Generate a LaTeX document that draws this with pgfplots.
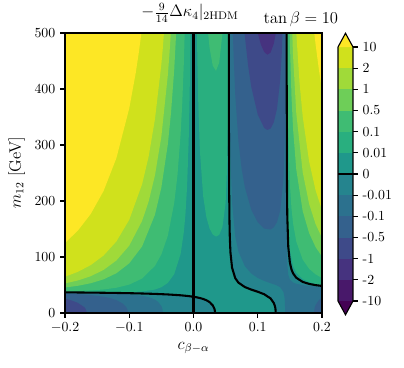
\documentclass[border=0pt]{standalone}
\usepackage{pgfplots}
\pgfplotsset{compat=1.18}
\definecolor{cU}{HTML}{440154}
\definecolor{c1}{HTML}{48186A}
\definecolor{c2}{HTML}{46337F}
\definecolor{c3}{HTML}{3E4A89}
\definecolor{c4}{HTML}{34618D}
\definecolor{c5}{HTML}{2C718E}
\definecolor{c6}{HTML}{25848E}
\definecolor{c7}{HTML}{1F988B}
\definecolor{c8}{HTML}{29AF7F}
\definecolor{c9}{HTML}{3FBC73}
\definecolor{c10}{HTML}{6ECE58}
\definecolor{c11}{HTML}{A0DA39}
\definecolor{c12}{HTML}{D0E11C}
\definecolor{cO}{HTML}{FDE725}
\begin{document}
\begin{tikzpicture}
\useasboundingbox (0,0) rectangle (4.04in,3.68in);
\begin{axis}[
  at={(0.65in,0.55in)}, anchor=south west,
  scale only axis, width=2.57in, height=2.80in,
  xmin=-0.2, xmax=0.2, ymin=0, ymax=500,
  axis on top,
  xtick={-0.2,-0.1,0,0.1,0.2},
  xticklabels={$-0.2$,$-0.1$,$0.0$,$0.1$,$0.2$},
  ytick={0,100,200,300,400,500},
  tick pos=left, tick align=outside,
  major tick length=3.5pt,
  every tick/.style={black, line width=0.8pt},
  axis line style={line width=0.8pt},
  xlabel={$c_{\beta-\alpha}$},
  ylabel={$m_{12}$ [GeV]},
  label style={font=\fontsize{12}{14}\selectfont},
]
% base: 0 < f < 0.01
\addplot[draw=none, fill=c7] coordinates {(-0.21,-10) (0.21,-10) (0.21,510) (-0.21,510)} --cycle;
% f < 0
\addplot[draw=none, fill=c6] coordinates {(-0.21,-10) (-0.21,36.86) (-0.2,36.86) (-0.18,36.66) (-0.16,36.42) (-0.14,36.14) (-0.12,35.80) (-0.1,35.38) (-0.08,34.84) (-0.06,34.13) (-0.04,33.13) (-0.02,31.63) (-0.01,30.52) (0,29.0) (0.005,27.99) (0.01,26.73) (0.015,25.09) (0.02,22.84) (0.025,19.52) (0.03,13.67) (0.0325,7.7) (0.033,5.5) (0.0334,2.5) (0.0335,0) (0.0335,-10)} --cycle;
\addplot[draw=none, fill=c6] coordinates {(0.05504,510) (0.05504,500) (0.0552,317.6) (0.0555,220.5) (0.056,162.8) (0.0565,135.9) (0.0575,108.4) (0.06,80.9) (0.065,62.07) (0.07,54.14) (0.08,46.3) (0.09,41.76) (0.1,37.96) (0.11,33.52) (0.12,25.95) (0.125,17.76) (0.1265,13.2) (0.1275,8.4) (0.128,0) (0.128,-10) (0.21,-10) (0.21,48.3) (0.2,48.3) (0.19,49.77) (0.18,51.93) (0.17,55.5) (0.16,62.87) (0.155,70.8) (0.1525,77.8) (0.15,90.05) (0.1475,118.3) (0.146,172) (0.1455,223.9) (0.145,442) (0.14496,500) (0.14496,510)} --cycle;
% f < -0.01
\addplot[draw=none, fill=c5] coordinates {(-0.21,-10) (-0.21,36.67) (-0.2,36.67) (-0.16,36.0) (-0.12,34.74) (-0.1,33.46) (-0.08,30.91) (-0.07,28.45) (-0.06,23.93) (-0.055,19.87) (-0.05,12.34) (-0.049,9.65) (-0.048,5.5) (-0.0476,0) (-0.0476,-10)} --cycle;
\addplot[draw=none, fill=c5] coordinates {(0.0558,510) (0.0558,500) (0.056,440.8) (0.0565,362.7) (0.0575,281.5) (0.06,197.4) (0.065,136.5) (0.07,109.6) (0.08,83.5) (0.09,70.5) (0.1,62.6) (0.11,57.3) (0.12,53.2) (0.125,51.3) (0.13,49.1) (0.135,45.9) (0.14,37.6) (0.1415,29.1) (0.142,23.2) (0.1425,9.7) (0.1426,0) (0.1426,-10) (0.21,-10) (0.21,46.65) (0.2,46.65) (0.19,47.4) (0.18,48.4) (0.17,49.8) (0.16,52.2) (0.155,54.4) (0.15,59.7) (0.1475,68.2) (0.146,86.2) (0.1452,132.7) (0.145,192.3) (0.1449,500) (0.1449,510)} --cycle;
% f < -0.1
\addplot[draw=none, fill=c4] coordinates {(-0.21,-10) (-0.21,34.87) (-0.2,34.87) (-0.18,33.78) (-0.16,32.05) (-0.14,29.07) (-0.13,26.65) (-0.12,23.01) (-0.11,16.75) (-0.105,10.98) (-0.103,6.9) (-0.1015,0) (-0.1015,-10)} --cycle;
\addplot[draw=none, fill=c4] coordinates {(0.0613,510) (0.0613,500) (0.0625,459.2) (0.065,389.4) (0.07,306.2) (0.075,257.1) (0.08,224.5) (0.09,184.3) (0.1,162.1) (0.11,150.8) (0.12,149.1) (0.125,153.1) (0.13,162.5) (0.135,183.2) (0.14,239.7) (0.1425,330.1) (0.1435,429.2) (0.1438,500) (0.1438,510)} --cycle;
\addplot[draw=none, fill=c4] coordinates {(0.1875,-10) (0.1875,0) (0.1885,9.1) (0.19,14.1) (0.195,22.8) (0.2,27.7) (0.21,27.7) (0.21,-10)} --cycle;
% f < -0.5
\addplot[draw=none, fill=c3] coordinates {(-0.21,-10) (-0.21,25.4) (-0.2,25.4) (-0.19,22.45) (-0.18,18.14) (-0.17,10.46) (-0.168,7.7) (-0.1658,0) (-0.1658,-10)} --cycle;
\addplot[draw=none, fill=c3] coordinates {(0.0795,510) (0.0795,500) (0.08,493.3) (0.085,441.5) (0.09,403.5) (0.1,354.4) (0.11,330.5) (0.115,326.8) (0.12,329.4) (0.125,340.4) (0.13,364.9) (0.135,416.5) (0.1375,465.6) (0.1385,500) (0.1385,510)} --cycle;
% f < -1
\addplot[draw=none, fill=c2] coordinates {(0.1,510) (0.1,499.8) (0.105,479.1) (0.11,466.2) (0.115,461.2) (0.12,465.1) (0.125,481.1) (0.128,499) (0.128,510)} --cycle;
% f > 0.01
\addplot[draw=none, fill=c8] coordinates {(-0.21,37.06) (-0.2,37.06) (-0.18,36.94) (-0.16,36.83) (-0.14,36.78) (-0.12,36.84) (-0.1,37.2) (-0.08,38.4) (-0.06,41.9) (-0.05,46.0) (-0.04,53.7) (-0.03,69.4) (-0.02,105.6) (-0.015,144.7) (-0.0125,176.7) (-0.01,225.5) (-0.0075,307.8) (-0.006,390.6) (-0.005,473.8) (-0.0048,500) (-0.0048,510) (-0.21,510)} --cycle;
\addplot[draw=none, fill=c8] coordinates {(0.0054,510) (0.0054,500) (0.006,453.9) (0.0075,371.1) (0.01,289.1) (0.015,208.9) (0.02,171.2) (0.025,150.9) (0.03,140.2) (0.035,136.5) (0.04,139.5) (0.045,153.3) (0.05,196.6) (0.0525,266.8) (0.0535,341.4) (0.054,419.5) (0.0542,500) (0.0542,510)} --cycle;
\addplot[draw=none, fill=c8] coordinates {(0.1451,510) (0.1451,500) (0.1455,298.6) (0.146,227.4) (0.1475,152.7) (0.15,112.5) (0.155,84.1) (0.16,72.0) (0.17,60.7) (0.18,55.2) (0.19,52.0) (0.2,49.9) (0.21,49.9) (0.21,510)} --cycle;
% f > 0.1
\addplot[draw=none, fill=c9] coordinates {(-0.21,38.75) (-0.2,38.75) (-0.18,39.33) (-0.16,40.3) (-0.14,42.0) (-0.12,45.1) (-0.1,50.7) (-0.08,61.6) (-0.06,84.2) (-0.05,104.7) (-0.04,137.8) (-0.03,196.5) (-0.025,245.3) (-0.02,320.3) (-0.0175,374.7) (-0.015,447.8) (-0.0137,500) (-0.0137,510) (-0.21,510)} --cycle;
\addplot[draw=none, fill=c9] coordinates {(0.0227,510) (0.0227,500) (0.025,473.6) (0.03,441.6) (0.035,432.5) (0.04,447.1) (0.045,498.6) (0.0451,500) (0.0451,510)} --cycle;
\addplot[draw=none, fill=c9] coordinates {(0.1462,510) (0.1462,500) (0.1468,383) (0.1475,327.7) (0.15,231.3) (0.1525,186.8) (0.155,159.8) (0.16,127.5) (0.17,95.3) (0.18,78.9) (0.19,69.0) (0.2,62.5) (0.21,62.5) (0.21,510)} --cycle;
% f > 0.5
\addplot[draw=none, fill=c10] coordinates {(-0.21,45.5) (-0.2,45.5) (-0.18,48.6) (-0.16,53.1) (-0.14,60.1) (-0.12,71.0) (-0.1,88.7) (-0.08,118.9) (-0.06,175.4) (-0.05,224.1) (-0.04,300.8) (-0.035,357.4) (-0.03,434.6) (-0.027,500) (-0.027,510) (-0.21,510)} --cycle;
\addplot[draw=none, fill=c10] coordinates {(0.1497,510) (0.1497,500) (0.15,484.9) (0.1525,387.6) (0.155,328.1) (0.16,255.9) (0.17,181.8) (0.18,142.5) (0.19,117.8) (0.2,100.8) (0.21,100.8) (0.21,510)} --cycle;
% f > 1
\addplot[draw=none, fill=c11] coordinates {(-0.21,52.8) (-0.2,52.8) (-0.18,58.1) (-0.16,65.7) (-0.14,76.9) (-0.12,93.8) (-0.1,120.3) (-0.08,164.5) (-0.07,198.4) (-0.06,245.7) (-0.05,315.2) (-0.04,424.1) (-0.0375,461.4) (-0.0353,500) (-0.0353,510) (-0.21,510)} --cycle;
\addplot[draw=none, fill=c11] coordinates {(0.1537,510) (0.1537,500) (0.155,458.6) (0.16,356.3) (0.17,251.1) (0.18,194.7) (0.19,158.9) (0.2,134.2) (0.21,134.2) (0.21,510)} --cycle;
% f > 2
\addplot[draw=none, fill=c12] coordinates {(-0.21,64.9) (-0.2,64.9) (-0.18,73.5) (-0.16,85.5) (-0.14,102.6) (-0.12,127.8) (-0.1,166.5) (-0.08,230.0) (-0.07,278.4) (-0.06,345.9) (-0.05,444.5) (-0.048,469.7) (-0.046,500) (-0.046,510) (-0.21,510)} --cycle;
\addplot[draw=none, fill=c12] coordinates {(0.16,510) (0.16,500) (0.165,411.7) (0.17,350.7) (0.18,270.4) (0.19,219.2) (0.2,183.5) (0.21,183.5) (0.21,510)} --cycle;
% f > 10
\addplot[draw=none, fill=cO] coordinates {(-0.21,125.0) (-0.2,125.0) (-0.18,147.1) (-0.16,176.8) (-0.14,217.8) (-0.12,276.6) (-0.1,365.5) (-0.09,428.1) (-0.085,466.1) (-0.0811,500) (-0.0811,510) (-0.21,510)} --cycle;
\addplot[draw=none, fill=cO] coordinates {(0.188,510) (0.188,500) (0.19,480) (0.195,436.2) (0.2,398.8) (0.21,398.8) (0.21,510)} --cycle;
% zero contours
\addplot[black, line width=1.5pt] coordinates {(0,0) (0,500)};
\addplot[black, line width=1.5pt] coordinates {(-0.2,36.86) (-0.18,36.66) (-0.16,36.42) (-0.14,36.14) (-0.12,35.80) (-0.1,35.38) (-0.08,34.84) (-0.06,34.13) (-0.04,33.13) (-0.02,31.63) (-0.01,30.52) (0,29.0) (0.005,27.99) (0.01,26.73) (0.015,25.09) (0.02,22.84) (0.025,19.52) (0.03,13.67) (0.0325,7.7) (0.033,5.5) (0.0334,2.5) (0.0335,0)};
\addplot[black, line width=1.5pt] coordinates {(0.05504,500) (0.0552,317.6) (0.0555,220.5) (0.056,162.8) (0.0565,135.9) (0.0575,108.4) (0.06,80.9) (0.065,62.07) (0.07,54.14) (0.08,46.3) (0.09,41.76) (0.1,37.96) (0.11,33.52) (0.12,25.95) (0.125,17.76) (0.1265,13.2) (0.1275,8.4) (0.128,0)};
\addplot[black, line width=1.5pt] coordinates {(0.14496,500) (0.145,442) (0.1455,223.9) (0.146,172) (0.1475,118.3) (0.15,90.05) (0.1525,77.8) (0.155,70.8) (0.16,62.87) (0.17,55.5) (0.18,51.93) (0.19,49.77) (0.2,48.3)};
\end{axis}
% colorbar
\begin{axis}[
  at={(3.38in,0.532in)}, anchor=south west,
  scale only axis, width=0.15in, height=2.8155in,
  xmin=0, xmax=1, ymin=-0.65, ymax=12.65,
  xtick=\empty,
  axis line style={draw=none},
  ytick={0,1,...,12},
  yticklabels={-10,-2,-1,-0.5,-0.1,-0.01,0,0.01,0.1,0.5,1,2,10},
  ytick pos=right, yticklabel pos=right, tick align=outside,
  major tick length=3.5pt,
  every tick/.style={black, line width=0.8pt},
  clip=false,
]
\addplot[draw=none, fill=cU] coordinates {(0,0) (1,0) (0.5,-0.65)} --cycle;
\addplot[draw=none, fill=c1] coordinates {(0,0) (1,0) (1,1) (0,1)} --cycle;
\addplot[draw=none, fill=c2] coordinates {(0,1) (1,1) (1,2) (0,2)} --cycle;
\addplot[draw=none, fill=c3] coordinates {(0,2) (1,2) (1,3) (0,3)} --cycle;
\addplot[draw=none, fill=c4] coordinates {(0,3) (1,3) (1,4) (0,4)} --cycle;
\addplot[draw=none, fill=c5] coordinates {(0,4) (1,4) (1,5) (0,5)} --cycle;
\addplot[draw=none, fill=c6] coordinates {(0,5) (1,5) (1,6) (0,6)} --cycle;
\addplot[draw=none, fill=c7] coordinates {(0,6) (1,6) (1,7) (0,7)} --cycle;
\addplot[draw=none, fill=c8] coordinates {(0,7) (1,7) (1,8) (0,8)} --cycle;
\addplot[draw=none, fill=c9] coordinates {(0,8) (1,8) (1,9) (0,9)} --cycle;
\addplot[draw=none, fill=c10] coordinates {(0,9) (1,9) (1,10) (0,10)} --cycle;
\addplot[draw=none, fill=c11] coordinates {(0,10) (1,10) (1,11) (0,11)} --cycle;
\addplot[draw=none, fill=c12] coordinates {(0,11) (1,11) (1,12) (0,12)} --cycle;
\addplot[draw=none, fill=cO] coordinates {(0,12) (1,12) (0.5,12.65)} --cycle;
\addplot[black, line width=1.5pt] coordinates {(0,6) (1,6)};
\addplot[black, line width=0.8pt] coordinates {(0,0) (0,12) (0.5,12.65) (1,12) (1,0) (0.5,-0.65)} --cycle;
\end{axis}
\node[anchor=base, font=\fontsize{12}{14}\selectfont] at (1.90in,3.51in) {$-\frac{9}{14}\Delta\kappa_4|_{\mathrm{2HDM}}$};
\node[anchor=base east, font=\fontsize{12}{14}\selectfont] at (3.43in,3.44in) {$\tan\beta = 10$};
\end{tikzpicture}
\end{document}
